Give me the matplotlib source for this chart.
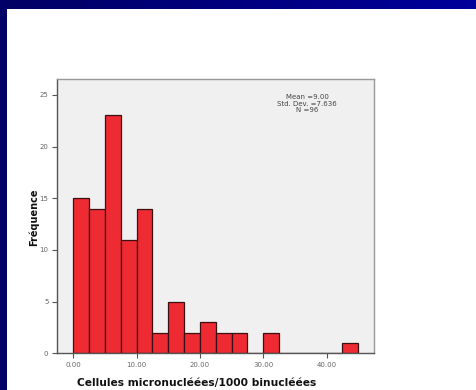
import numpy as np
import matplotlib
matplotlib.use("Agg")
import matplotlib.pyplot as plt
from matplotlib.patches import Rectangle

# Histogram bins (width 2.5) and counts
bin_edges = [0.0, 2.5, 5.0, 7.5, 10.0, 12.5, 15.0, 17.5, 20.0, 22.5, 25.0,
             27.5, 30.0, 32.5, 35.0, 37.5, 40.0, 42.5, 45.0]
counts = [15, 14, 23, 11, 14, 2, 5, 2, 3, 2, 2, 0, 2, 0, 0, 0, 0, 1]
x_ticks = [0, 10, 20, 30, 40]
x_tick_labels = ["0.00", "10.00", "20.00", "30.00", "40.00"]
y_ticks = [0, 5, 10, 15, 20, 25]
stats_text = "Mean =9.00\nStd. Dev. =7.636\nN =96"

fig = plt.figure(figsize=(4.77, 3.90), dpi=100)
fig.patch.set_facecolor("white")

# Slide decoration: gradient band on top, dark strip on the left
band = fig.add_axes([0, 1 - 8.7 / 390, 1, 8.7 / 390])
grad = np.linspace(0, 1, 256)[None, :]
cols = np.zeros((1, 256, 3))
cols[..., 2] = (100 + 55 * grad) / 255
band.imshow(cols, aspect="auto", extent=[0, 1, 0, 1])
band.set_axis_off()
fig.patches.append(Rectangle((0, 0), 6.7 / 477, 1, transform=fig.transFigure,
                             facecolor="#000066", edgecolor="none", zorder=0))

ax = fig.add_axes([56.7 / 477, 1 - 353.3 / 390, (374 - 56.7) / 477,
                   (353.3 - 79.3) / 390])
ax.set_facecolor("#f0f0f0")

lefts = bin_edges[:-1]
widths = np.diff(bin_edges)
ax.bar(lefts, counts, width=widths, align="edge", color="#ee2a33",
       edgecolor="#3a1010", linewidth=0.9, zorder=2)

ax.set_xlim(-2.62, 47.48)
ax.set_ylim(0, 26.5)
ax.set_xticks(x_ticks)
ax.set_xticklabels(x_tick_labels)
ax.set_yticks(y_ticks)
ax.tick_params(axis="both", labelsize=5, colors="#555555", length=3.5,
               width=0.8, direction="out", pad=2.5)
ax.tick_params(axis="both", labelcolor="#666666")

for side in ("left", "bottom"):
    ax.spines[side].set_color("#555555")
    ax.spines[side].set_linewidth(1.0)
for side in ("right", "top"):
    ax.spines[side].set_color("#999999")
    ax.spines[side].set_linewidth(1.0)

ax.text(0.79, 0.945, stats_text, transform=ax.transAxes, ha="center",
        va="top", fontsize=5, color="#444444", linespacing=1.05)

fig.text(197 / 477, 1 - 383 / 390, "Cellules micronucléées/1000 binucléées",
         ha="center", va="center", fontsize=7.7, fontweight="bold",
         color="#111111")
fig.text(34 / 477, 1 - 217 / 390, "Fréquence", rotation=90, ha="center",
         va="center", fontsize=7, fontweight="bold", color="#111111")

fig.savefig("out.png", dpi=100)
